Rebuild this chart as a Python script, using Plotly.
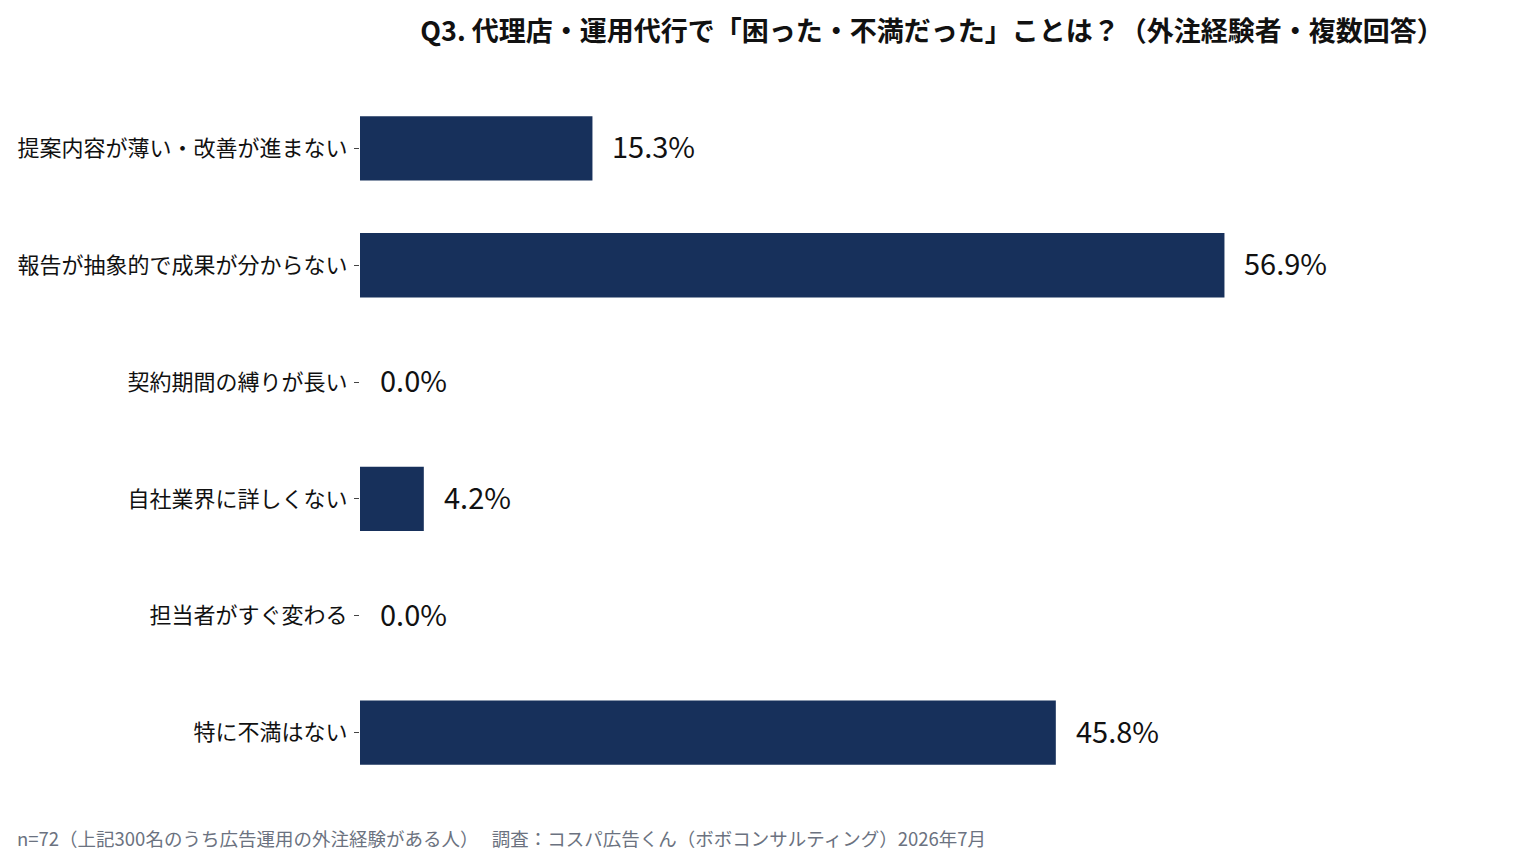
import plotly.graph_objects as go

categories = [
    "提案内容が薄い・改善が進まない",
    "報告が抽象的で成果が分からない",
    "契約期間の縛りが長い",
    "自社業界に詳しくない",
    "担当者がすぐ変わる",
    "特に不満はない",
]
values = [15.3, 56.9, 0.0, 4.2, 0.0, 45.8]
labels = [f"{v:.1f}%" for v in values]

title = "Q3. 代理店・運用代行で「困った・不満だった」ことは？（外注経験者・複数回答）"
footer = "n=72（上記300名のうち広告運用の外注経験がある人）　 調査：コスパ広告くん（ボボコンサルティング）2026年7月"

FONT = "Noto Sans CJK JP"
BAR = "#17305b"

W, H = 1536, 858
ML, MR, MT, MB = 360, 32, 90, 67
PW, PH = W - ML - MR, H - MT - MB

fig = go.Figure()
fig.add_trace(go.Bar(
    x=values, y=categories, orientation="h",
    marker=dict(color=BAR, line=dict(width=0)),
    width=0.55, hoverinfo="skip",
))

for v, c, t in zip(values, categories, labels):
    fig.add_annotation(x=v, y=c, text=t, showarrow=False, xanchor="left",
                       yanchor="middle", xshift=18, yshift=3,
                       font=dict(family=FONT, size=29, color="#111111"))

fig.add_annotation(text=footer, showarrow=False,
                   x=-(ML - 15) / PW, y=-(838 - (MT + PH)) / PH,
                   xref="paper", yref="paper", xanchor="left", yanchor="middle",
                   font=dict(family=FONT, size=18.5, color="#6b7280"))

fig.update_layout(
    width=W, height=H,
    margin=dict(l=ML, r=MR, t=MT, b=MB),
    plot_bgcolor="white", paper_bgcolor="white",
    showlegend=False,
    title=dict(text=f"<b>{title}</b>", x=932 / W, xanchor="center", y=1 - 32 / H,
               yanchor="middle", font=dict(family=FONT, size=27, color="#111111")),
    xaxis=dict(range=[0, 75.3], visible=False),
    yaxis=dict(categoryorder="array", categoryarray=categories[::-1],
               autorange=False, range=[-0.5, 5.5],
               ticks="outside", ticklen=5, tickcolor="#444444",
               ticklabelstandoff=2,
               showline=False, showgrid=False,
               tickfont=dict(family=FONT, size=22, color="#111111")),
    font=dict(family=FONT),
)

fig.write_html("out.html")
